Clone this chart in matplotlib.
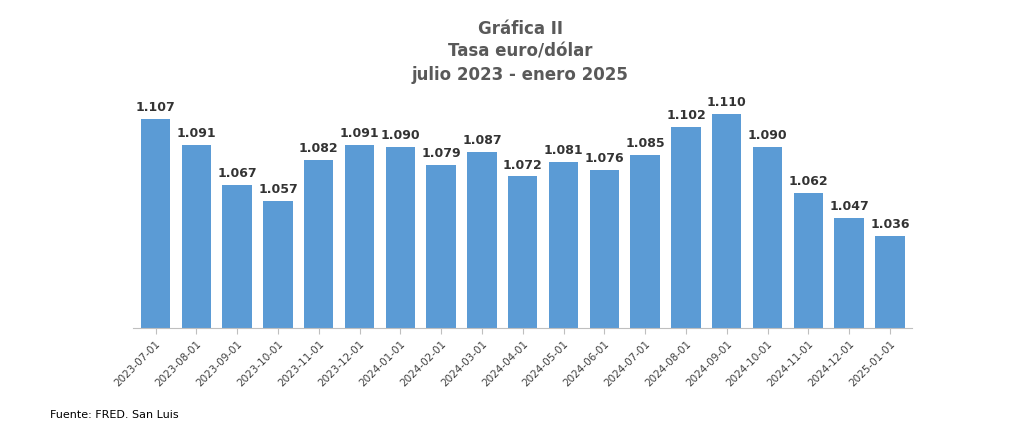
import matplotlib
matplotlib.use('Agg')
import matplotlib.pyplot as plt

fechas = ['2023-07-01', '2023-08-01', '2023-09-01', '2023-10-01', '2023-11-01',
          '2023-12-01', '2024-01-01', '2024-02-01', '2024-03-01', '2024-04-01',
          '2024-05-01', '2024-06-01', '2024-07-01', '2024-08-01', '2024-09-01',
          '2024-10-01', '2024-11-01', '2024-12-01', '2025-01-01']
tasa = [1.107, 1.091, 1.067, 1.057, 1.082, 1.091, 1.090, 1.079, 1.087, 1.072,
        1.081, 1.076, 1.085, 1.102, 1.110, 1.090, 1.062, 1.047, 1.036]

fig = plt.figure(figsize=(10.24, 4.41), dpi=100)
ax = fig.add_axes([0.130, 0.256, 0.761, 0.542])

x = range(len(fechas))
ax.bar(x, tasa, width=0.72, color='#5B9BD5')
for i, v in zip(x, tasa):
    ax.text(i, v + 0.003, f'{v:.3f}', ha='center', va='bottom',
            fontsize=9, fontweight='bold', color='#333333')

ax.set_ylim(0.98, 1.125)
ax.set_xlim(-0.55, len(fechas) - 0.45)
ax.set_yticks([])
ax.set_xticks(list(x))
ax.set_xticklabels(fechas, rotation=45, ha='right', rotation_mode='anchor',
                   fontsize=7.5, color='#404040')
for s in ['top', 'right', 'left']:
    ax.spines[s].set_visible(False)
ax.spines['bottom'].set_color('#bfbfbf')
ax.tick_params(axis='x', length=4, color='#bfbfbf')

fig.text(0.508, 0.955, 'Gráfica II\nTasa euro/dólar\njulio 2023 - enero 2025',
         ha='center', va='top', fontsize=12, fontweight='bold',
         color='#595959', linespacing=1.35)
fig.text(0.049, 0.052, 'Fuente: FRED. San Luis', fontsize=8, color='#000000')

fig.savefig('out.png', dpi=100, facecolor='white')
